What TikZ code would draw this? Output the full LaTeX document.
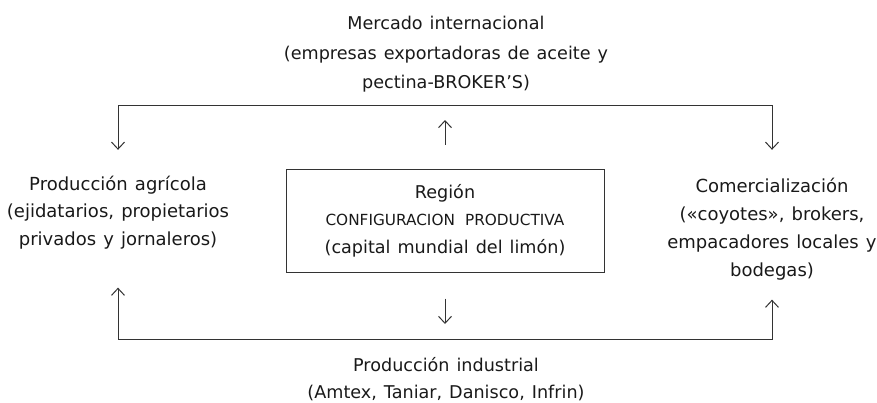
\documentclass[tikz,border=0pt]{standalone}
\usepackage{fontspec}
\setmainfont{DejaVu Sans}[WordSpace=1.25]
\usetikzlibrary{arrows.meta}
\usetikzlibrary{positioning}

\begin{document}
\begin{tikzpicture}[x=1pt,y=-1pt]

\tikzset{
    myarrow/.style={-{Straight Barb[length=7pt,width=13pt]}, line width=1pt, draw=black!80},
    bothways/.style={{Straight Barb[length=7pt,width=13pt]}-{Straight Barb[length=7pt,width=13pt]}, line width=1pt, draw=black!80},
    txt/.style={align=center, inner sep=0pt, anchor=base, text=black!90, font=\fontsize{18}{27.5}\selectfont},
    regbox/.style={draw=black!80, line width=1pt, inner sep=0pt, minimum width=318pt, minimum height=103pt, align=center, text=black!90, font=\fontsize{17.6}{27.5}\selectfont}
}

\useasboundingbox (0,0) rectangle (877,402);

%middle box
\node[regbox] (reg) at (445,220.5) {Región\\{\fontsize{15.3}{27.5}\selectfont CONFIGURACION\hspace{4pt} PRODUCTIVA}\\(capital mundial del limón)};

%rails
\coordinate (toprail) at (446,105);
\coordinate (botrail) at (446,339);

%top
\node[txt, font=\fontsize{17.6}{29.5}\selectfont] (merc) at (446,88.5) {Mercado internacional\\(empresas exportadoras de aceite y\\pectina-BROKER'S)};

%left
\node[txt] (agri) at (118,245) {Producción agrícola\\(ejidatarios, propietarios\\privados y jornaleros)};

%right
\node[txt, font=\fontsize{18}{28}\selectfont] (com) at (772,276) {Comercialización\\(«coyotes», brokers,\\empacadores locales y\\bodegas)};

%bottom
\node[txt, font=\fontsize{17.6}{27}\selectfont] (ind) at (446,398) {Producción industrial\\(Amtex, Taniar, Danisco, Infrin)};

%upper branch
\draw[bothways, shorten <=25.6pt, shorten >=27.6pt] (agri.north) -- (agri.north |- toprail) -- (com.north |- toprail) -- (com.north);
\draw[myarrow, shorten <=24pt, shorten >=15pt] (reg.north) -- (reg.north |- toprail);

%lower branch
\draw[bothways, shorten <=38.7pt, shorten >=19.7pt] (agri.south) -- (agri.south |- botrail) -- (com.south |- botrail) -- (com.south);
\draw[myarrow, shorten <=26pt, shorten >=15pt] (reg.south) -- (reg.south |- botrail);

\end{tikzpicture}
\end{document}
